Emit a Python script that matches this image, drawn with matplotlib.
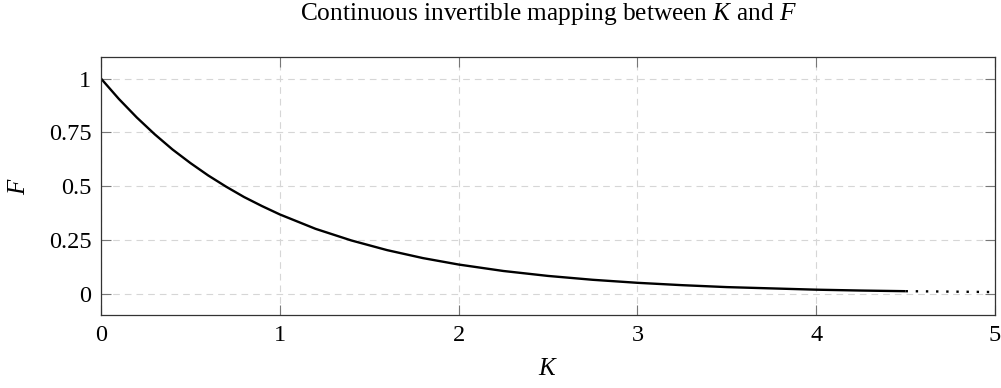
import matplotlib
matplotlib.use("Agg")
import matplotlib.pyplot as plt

# Values
K_solid = [0.0, 0.1, 0.2, 0.3, 0.4, 0.5, 0.6, 0.7, 0.8, 0.9, 1.0, 1.2, 1.4,
           1.6, 1.8, 2.0, 2.25, 2.5, 2.75, 3.0, 3.25, 3.5, 3.75, 4.0, 4.25, 4.5]
F_solid = [1.0, 0.905, 0.819, 0.741, 0.670, 0.607, 0.549, 0.497, 0.449, 0.407,
           0.368, 0.301, 0.247, 0.202, 0.165, 0.135, 0.105, 0.082, 0.064,
           0.050, 0.039, 0.030, 0.024, 0.018, 0.014, 0.011]
K_dotted = [4.5, 4.75, 5.0]
F_dotted = [0.011, 0.009, 0.007]

x_ticks = [0, 1, 2, 3, 4, 5]
x_tick_labels = ["0", "1", "2", "3", "4", "5"]
y_ticks = [0, 0.25, 0.5, 0.75, 1]
y_tick_labels = ["0", "0.25", "0.5", "0.75", "1"]

plt.rcParams["font.family"] = ["Liberation Serif", "DejaVu Serif"]
plt.rcParams["mathtext.fontset"] = "custom"
plt.rcParams["mathtext.rm"] = "Liberation Serif"
plt.rcParams["mathtext.it"] = "Liberation Serif:italic"

fig = plt.figure(figsize=(10.01, 3.88), dpi=100)
ax = fig.add_axes([0.1009, 0.188, 0.8931, 0.665])

ax.plot(K_solid, F_solid, color="black", linewidth=1.7, solid_capstyle="butt")
ax.plot(K_dotted, F_dotted, color="black", linewidth=1.7,
        linestyle=(0, (1, 3.3)))

ax.set_xlim(0, 5)
ax.set_ylim(-0.1, 1.1)
ax.set_xticks(x_ticks)
ax.set_xticklabels(x_tick_labels)
ax.set_yticks(y_ticks)
ax.set_yticklabels(y_tick_labels)

ax.grid(True, color="#d6d6d6", linestyle=(0, (6, 4.5)), linewidth=0.8)
ax.set_axisbelow(True)

ax.tick_params(direction="in", length=7, width=0.8, color="#777777",
               top=True, right=True, labelsize=17.5, pad=7)
for s in ax.spines.values():
    s.set_linewidth(0.9)
    s.set_color("#333333")

ax.set_title(r"Continuous invertible mapping between $K$ and $F$",
             fontsize=18.3, pad=26.5)
ax.set_xlabel(r"$K$", fontsize=18, labelpad=9)
ax.set_ylabel(r"$F$", fontsize=18, labelpad=13.5)

fig.savefig("out.png", dpi=100)
